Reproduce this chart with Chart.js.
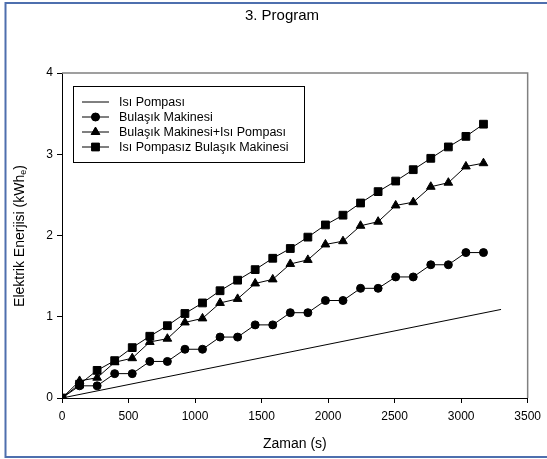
<!DOCTYPE html>
<html>
<head>
<meta charset="utf-8">
<script src="https://cdn.jsdelivr.net/npm/chart.js@4/dist/chart.umd.min.js"></script>
<style>
  html, body { margin: 0; padding: 0; background: #fff; }
  #wrap { width: 547px; height: 459px; position: relative; }
</style>
</head>
<body>
<div id="wrap"><canvas id="c" width="547" height="459"></canvas></div>
<script>
// time steps (s)
const zaman = [0, 132, 264, 396, 528, 660, 792, 924, 1056, 1188, 1320, 1452, 1584,
  1716, 1848, 1980, 2112, 2244, 2376, 2508, 2640, 2772, 2904, 3036, 3168];

const isiPompasiX = [0, 3300];
const isiPompasi = [0, 1.09];

const bulasik = [0, 0.15, 0.15, 0.30, 0.30, 0.45, 0.45, 0.60, 0.60, 0.75, 0.75, 0.90, 0.90,
  1.05, 1.05, 1.20, 1.20, 1.35, 1.35, 1.49, 1.49, 1.64, 1.64, 1.79, 1.79];

const bulasikIsi = [0, 0.21, 0.25, 0.44, 0.49, 0.69, 0.73, 0.93, 0.98, 1.17, 1.22, 1.41, 1.46,
  1.65, 1.70, 1.89, 1.93, 2.12, 2.17, 2.37, 2.41, 2.60, 2.65, 2.85, 2.89];

const pompasiz = [0, 0.17, 0.34, 0.46, 0.62, 0.76, 0.89, 1.04, 1.17, 1.32, 1.45, 1.58, 1.72,
  1.84, 1.98, 2.13, 2.25, 2.40, 2.54, 2.67, 2.81, 2.95, 3.09, 3.22, 3.37];

const labels = ['Isı Pompası', 'Bulaşık Makinesi', 'Bulaşık Makinesi+Isı Pompası', 'Isı Pompasız Bulaşık Makinesi'];
const xTicks = [0, 500, 1000, 1500, 2000, 2500, 3000, 3500];
const yTicks = [0, 1, 2, 3, 4];

const FONT = '"Liberation Sans", Arial, sans-serif';

function pts(xs, ys) {
  return xs.map((x, i) => ({ x: x, y: ys[i] }));
}

// frame, title, plot box, y label with subscript, legend
const decor = {
  id: 'decor',
  afterDraw(chart) {
    const ctx = chart.ctx;
    const a = chart.chartArea;
    ctx.save();
    // outer blue frame
    ctx.strokeStyle = '#4e6fae';
    ctx.lineWidth = 2;
    ctx.strokeRect(5.5, 3, 545, 454);
    // plot box top/right
    ctx.strokeStyle = '#808080';
    ctx.lineWidth = 1.5;
    ctx.beginPath();
    ctx.moveTo(a.left, a.top);
    ctx.lineTo(a.right, a.top);
    ctx.lineTo(a.right, a.bottom);
    ctx.stroke();
    // title
    ctx.fillStyle = '#000';
    ctx.font = '15px ' + FONT;
    ctx.textAlign = 'center';
    ctx.textBaseline = 'middle';
    ctx.fillText('3. Program', 282, 16);
    // x title
    ctx.font = '14px ' + FONT;
    ctx.fillText('Zaman (s)', (a.left + a.right) / 2, 444);
    // y title with subscript
    ctx.translate(20, 236);
    ctx.rotate(-Math.PI / 2);
    const main = 'Elektrik Enerjisi (kWh';
    ctx.font = '14px ' + FONT;
    const w1 = ctx.measureText(main).width;
    ctx.font = '9px ' + FONT;
    const w2 = ctx.measureText('e').width;
    ctx.font = '14px ' + FONT;
    const w3 = ctx.measureText(')').width;
    let x0 = -(w1 + w2 + w3) / 2;
    ctx.textAlign = 'left';
    ctx.fillText(main, x0, 0);
    ctx.font = '9px ' + FONT;
    ctx.fillText('e', x0 + w1, 4);
    ctx.font = '14px ' + FONT;
    ctx.fillText(')', x0 + w1 + w2, 0);
    ctx.restore();

    // legend
    ctx.save();
    ctx.strokeStyle = '#000';
    ctx.lineWidth = 1;
    ctx.strokeRect(73.5, 86.5, 231, 76);
    ctx.font = '12.5px ' + FONT;
    ctx.textBaseline = 'middle';
    ctx.textAlign = 'left';
    chart.data.datasets.forEach((ds, i) => {
      const y = 102 + i * 15;
      ctx.strokeStyle = '#000';
      ctx.lineWidth = 1;
      ctx.beginPath();
      ctx.moveTo(82, y);
      ctx.lineTo(109, y);
      ctx.stroke();
      if (ds.pointRadius > 0) {
        ctx.fillStyle = '#000';
        Chart.helpers.drawPoint(ctx, { pointStyle: ds.pointStyle, radius: ds.pointRadius, borderWidth: 1 }, 95.5, y);
        ctx.fill();
      }
      ctx.fillStyle = '#000';
      ctx.fillText(ds.label, 119, y + 0.5);
    });
    ctx.restore();
  }
};

new Chart(document.getElementById('c'), {
  type: 'line',
  data: {
    datasets: [
      {
        label: labels[0],
        data: pts(isiPompasiX, isiPompasi),
        borderColor: '#000',
        borderWidth: 1,
        pointRadius: 0,
        pointStyle: 'circle'
      },
      {
        label: labels[1],
        data: pts(zaman, bulasik),
        borderColor: '#000',
        backgroundColor: '#000',
        borderWidth: 1,
        pointStyle: 'circle',
        pointRadius: 4
      },
      {
        label: labels[2],
        data: pts(zaman, bulasikIsi),
        borderColor: '#000',
        backgroundColor: '#000',
        borderWidth: 1,
        pointStyle: 'triangle',
        pointRadius: 5
      },
      {
        label: labels[3],
        data: pts(zaman, pompasiz),
        borderColor: '#000',
        backgroundColor: '#000',
        borderWidth: 1,
        pointStyle: 'rect',
        pointRadius: 5.5
      }
    ]
  },
  options: {
    responsive: false,
    animation: false,
    lineTension: 0,
    layout: { padding: { left: 0, top: 73, right: 19, bottom: 0 } },
    plugins: { legend: { display: false }, title: { display: false }, tooltip: { enabled: false } },
    scales: {
      x: {
        type: 'linear',
        min: 0, max: 3500,
        afterBuildTicks: (s) => { s.ticks = xTicks.map(v => ({ value: v })); },
        afterFit: (s) => { s.height = 61; },
        grid: { display: true, drawOnChartArea: false, drawTicks: true, tickLength: 5, color: '#000' },
        border: { display: true, color: '#000', width: 1 },
        ticks: { color: '#000', font: { size: 12, family: FONT }, padding: 6, maxRotation: 0, callback: (v) => String(v) }
      },
      y: {
        min: 0, max: 4,
        afterBuildTicks: (s) => { s.ticks = yTicks.map(v => ({ value: v })); },
        afterFit: (s) => { s.width = 62; },
        grid: { display: true, drawOnChartArea: false, drawTicks: true, tickLength: 5, color: '#000' },
        border: { display: true, color: '#000', width: 1 },
        ticks: { color: '#000', font: { size: 12, family: FONT }, padding: 4, callback: (v) => String(v) }
      }
    }
  },
  plugins: [decor]
});
</script>
</body>
</html>
